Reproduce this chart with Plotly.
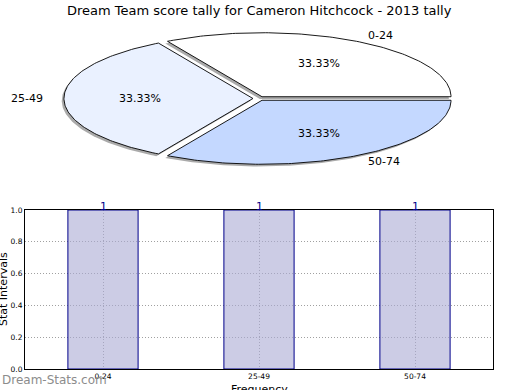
import math
import plotly.graph_objects as go

# ---- data ----
categories = ["0-24", "25-49", "50-74"]
counts = [1, 1, 1]
pie_colors = ["#FFFFFF", "#EAF1FF", "#C4D8FF"]
ytick_vals = [0.0, 0.2, 0.4, 0.6, 0.8, 1.0]

title = "Dream Team score tally for Cameron Hitchcock - 2013 tally"

W, H = 520, 390
# pie geometry (pixel units on a hidden full-figure axis)
CX, CY = 259.0, 98.5
RX, RY = 189.0, 64.0
EXPLODE = 0.032
FONT = "DejaVu Sans"

fig = go.Figure()

total = sum(counts)
start = 0.0
wedges = []
for cat, v, col in zip(categories, counts, pie_colors):
    frac = v / total
    a0 = start * 360.0
    a1 = (start + frac) * 360.0
    mid = math.radians((a0 + a1) / 2)
    ox = EXPLODE * RX * math.cos(mid)
    oy = -EXPLODE * RY * math.sin(mid)
    cx, cy = CX + ox, CY + oy
    n = 120
    xs = [cx]
    ys = [cy]
    for k in range(n + 1):
        a = math.radians(a0 + (a1 - a0) * k / n)
        xs.append(cx + RX * math.cos(a))
        ys.append(cy - RY * math.sin(a))
    xs.append(cx)
    ys.append(cy)
    wedges.append((cat, v, col, xs, ys, cx, cy, mid, frac))
    start += frac

# shadows
for cat, v, col, xs, ys, cx, cy, mid, frac in wedges:
    fig.add_trace(go.Scatter(
        x=[x - 2.2 for x in xs], y=[y + 2.2 for y in ys], mode="lines",
        fill="toself", fillcolor="rgba(100,100,100,0.55)",
        line=dict(color="rgba(100,100,100,0.0)", width=0),
        hoverinfo="skip", showlegend=False, xaxis="x", yaxis="y"))

# wedges
for cat, v, col, xs, ys, cx, cy, mid, frac in wedges:
    fig.add_trace(go.Scatter(
        x=xs, y=ys, mode="lines", fill="toself", fillcolor=col,
        line=dict(color="black", width=0.9),
        hoverinfo="skip", showlegend=False, xaxis="x", yaxis="y"))
    # percentage
    fig.add_annotation(x=cx + 0.6 * RX * math.cos(mid), y=cy - 0.6 * RY * math.sin(mid),
                       xref="x", yref="y", text=f"{frac*100:.2f}%", showarrow=False,
                       yanchor="middle",
                       font=dict(family=FONT, size=11, color="black"))
    lx = cx + 1.1 * RX * math.cos(mid)
    ly = cy - 1.1 * RY * math.sin(mid)
    fig.add_annotation(x=lx, y=ly, xref="x", yref="y", text=cat, showarrow=False,
                       xanchor="left" if math.cos(mid) >= 0 else "right", yanchor="middle",
                       font=dict(family=FONT, size=11, color="black"))

# bars (semi-transparent so the dotted grid shows through, as in the reference)
fig.add_trace(go.Bar(
    x=list(range(len(categories))), y=counts, width=0.45,
    marker=dict(color="rgba(170,170,212,0.6)", line=dict(color="#00008B", width=1)),
    hoverinfo="skip", showlegend=False, xaxis="x2", yaxis="y2"))
for i, v in enumerate(counts):
    fig.add_annotation(x=i, y=v, xref="x2", yref="y2", text=str(v), showarrow=False,
                       yanchor="middle", yshift=4,
                       font=dict(family=FONT, size=11, color="#00008B"))

bx0, bx1 = 25 / W, 493 / W
by0, by1 = 1 - 369 / H, 1 - 210 / H

grid_dash = "1px,2px"
fig.update_layout(
    width=W, height=H, margin=dict(l=0, r=0, t=0, b=0, pad=0, autoexpand=False),
    paper_bgcolor="white", plot_bgcolor="white",
    showlegend=False,
    xaxis=dict(domain=[0, 1], range=[0, W], visible=False, fixedrange=True),
    yaxis=dict(domain=[0, 1], range=[H, 0], visible=False, fixedrange=True),
    xaxis2=dict(domain=[bx0, bx1], range=[-0.5, 2.5], anchor="y2",
                tickmode="array", tickvals=list(range(len(categories))), ticktext=categories,
                tickfont=dict(family=FONT, size=7.5, color="black"),
                showgrid=True, gridcolor="#A0A0A0", griddash=grid_dash, gridwidth=1,
                showline=True, linecolor="black", linewidth=1, mirror=True,
                ticks="", zeroline=False, automargin=False, fixedrange=True),
    yaxis2=dict(domain=[by0, by1], range=[0, 1.0], anchor="x2",
                tickmode="array", tickvals=ytick_vals,
                ticktext=[f"{t:.1f}" for t in ytick_vals],
                tickfont=dict(family=FONT, size=7.5, color="black"),
                showgrid=True, gridcolor="#A0A0A0", griddash=grid_dash, gridwidth=1,
                showline=True, linecolor="black", linewidth=1, mirror=True,
                ticks="", zeroline=False, automargin=False, fixedrange=True),
)

# title & axis titles
fig.add_annotation(x=259 / W, y=1 - 10 / H, xref="paper", yref="paper", text=title,
                   xanchor="center", yanchor="middle",
                   showarrow=False, font=dict(family=FONT, size=13, color="black"))
fig.add_annotation(x=3 / W, y=1 - 289 / H, xref="paper", yref="paper", text="Stat Intervals",
                   xanchor="center", yanchor="middle",
                   textangle=-90, showarrow=False, font=dict(family=FONT, size=11, color="black"))
fig.add_annotation(x=259 / W, y=1 - 389 / H, xref="paper", yref="paper", text="Frequency",
                   xanchor="center", yanchor="middle",
                   showarrow=False, font=dict(family=FONT, size=11, color="black"))
fig.add_annotation(x=0, y=1 - 380 / H, xref="paper", yref="paper", text="Dream-Stats.com",
                   xanchor="left", yanchor="middle", showarrow=False,
                   font=dict(family=FONT, size=12, color="#8C8C8C"))

fig.write_html("out.html", config={"displayModeBar": False},
               post_script="document.body.style.margin='0';document.body.style.overflow='hidden';")
